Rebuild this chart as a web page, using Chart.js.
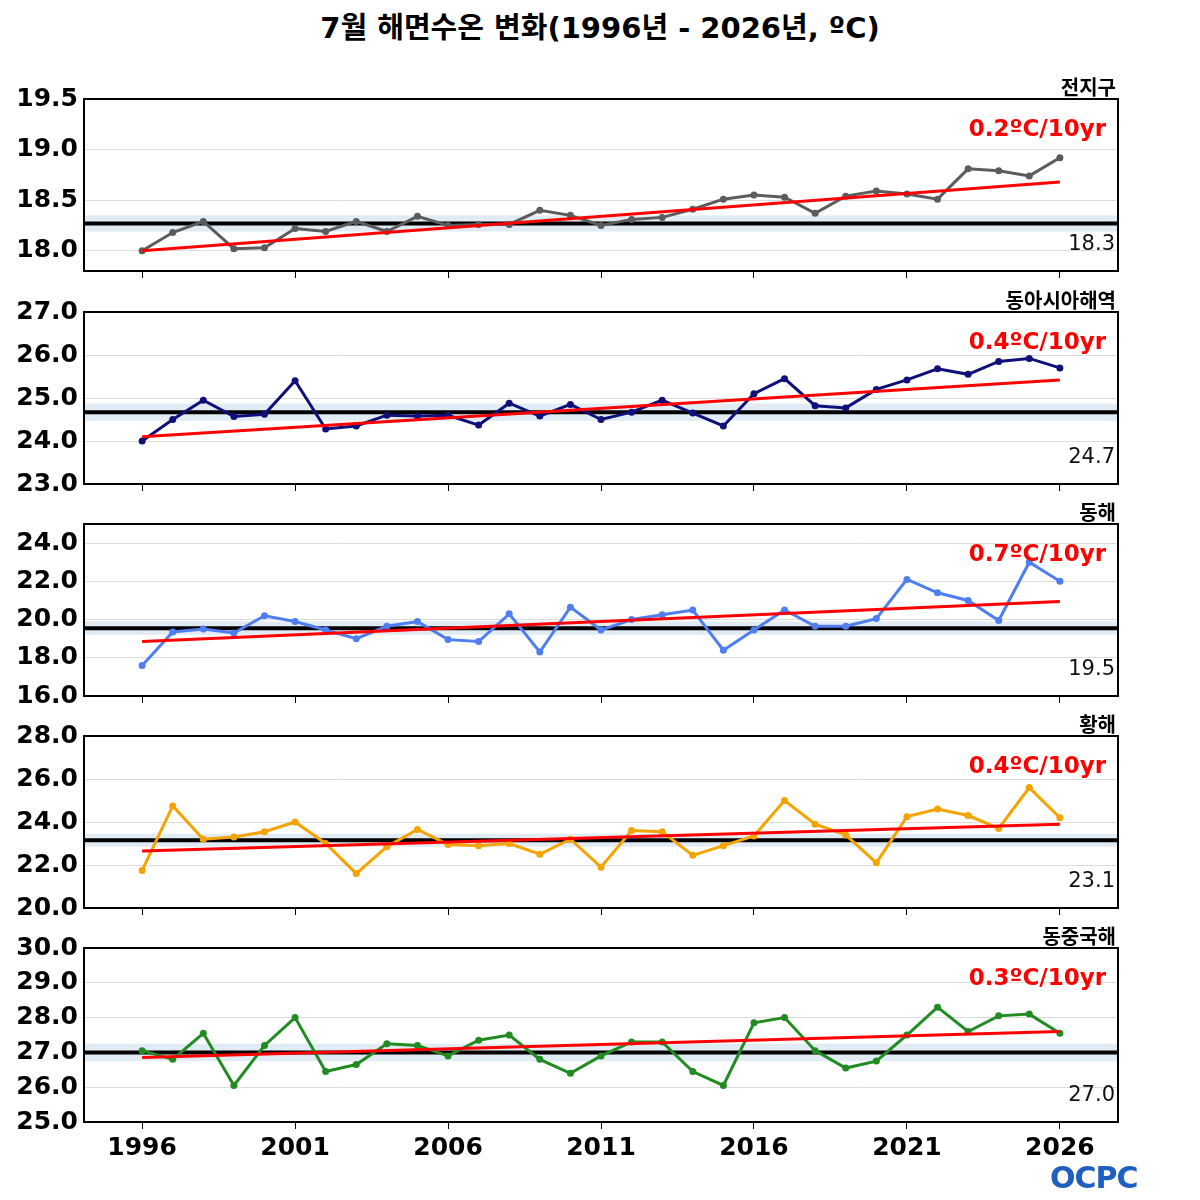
<!DOCTYPE html>
<html><head><meta charset="utf-8">
<script src="https://cdn.jsdelivr.net/npm/chart.js@4/dist/chart.umd.min.js"></script>
<style>
body{margin:0;background:#fff;font-family:"DejaVu Sans","Noto Sans CJK KR",sans-serif;}
#title{position:absolute;top:4px;left:0;width:1200px;text-align:center;font:bold 29px "DejaVu Sans","Noto Sans CJK KR";}
.p{position:absolute;left:0;width:1122px;}
#logo{position:absolute;left:1050px;top:1160px;font:bold 30px "DejaVu Sans";color:#1f5fbf;letter-spacing:-1px;}
</style></head><body>
<div id="title">7월 해면수온 변화(1996년 - 2026년, ºC)</div>
<div class="p" style="top:65px;height:227px"><canvas id="c0"></canvas></div>
<div class="p" style="top:278px;height:227px"><canvas id="c1"></canvas></div>
<div class="p" style="top:490px;height:227px"><canvas id="c2"></canvas></div>
<div class="p" style="top:702px;height:227px"><canvas id="c3"></canvas></div>
<div class="p" style="top:914px;height:256px"><canvas id="c4"></canvas></div>
<div id="logo">OCPC</div>
<script>
// ── Data ────────────────────────────────────────────────────────────────────
const years = [];
for (let y = 1996; y <= 2026; y++) years.push(y);
const xTicks = [1996, 2001, 2006, 2011, 2016, 2021, 2026];

const regionNames = ['전지구', '동아시아해역', '동해', '황해', '동중국해'];
const trendLabels = ['0.2ºC/10yr', '0.4ºC/10yr', '0.7ºC/10yr', '0.4ºC/10yr', '0.3ºC/10yr'];
const meanValues = [18.27, 24.67, 19.55, 23.15, 27.0];
const meanLabels = ['18.3', '24.7', '19.5', '23.1', '27.0'];
const trendStart = [18.0, 24.1, 18.85, 22.65, 26.85];
const trendEnd   = [18.68, 25.42, 20.95, 23.9, 27.6];

const sstGlobal = [18.0,18.18,18.29,18.02,18.03,18.22,18.19,18.29,18.19,18.34,18.25,18.26,18.26,18.4,18.35,18.25,18.31,18.33,18.41,18.51,18.55,18.53,18.37,18.54,18.59,18.56,18.51,18.81,18.79,18.74,18.92];
const sstEastAsia = [24.0,24.5,24.95,24.57,24.62,25.4,24.28,24.35,24.6,24.58,24.6,24.37,24.88,24.58,24.85,24.5,24.67,24.95,24.65,24.35,25.1,25.45,24.82,24.77,25.2,25.42,25.68,25.55,25.85,25.92,25.7];
const sstEastSea = [17.6,19.35,19.5,19.3,20.2,19.9,19.45,19.0,19.65,19.9,18.95,18.85,20.3,18.3,20.65,19.45,20.0,20.25,20.5,18.4,19.45,20.5,19.65,19.65,20.05,22.1,21.4,21.0,19.95,23.0,22.0];
const sstYellowSea = [21.75,24.75,23.2,23.3,23.55,24.0,23.0,21.6,22.85,23.65,22.95,22.9,23.0,22.5,23.2,21.9,23.6,23.55,22.45,22.9,23.35,25.0,23.9,23.4,22.1,24.25,24.6,24.3,23.7,25.6,24.2];
const sstEastChinaSea = [27.05,26.8,27.55,26.05,27.2,28.0,26.45,26.65,27.25,27.2,26.9,27.35,27.5,26.8,26.4,26.9,27.3,27.3,26.45,26.05,27.85,28.0,27.05,26.55,26.75,27.5,28.3,27.6,28.05,28.1,27.55];
const series = [sstGlobal, sstEastAsia, sstEastSea, sstYellowSea, sstEastChinaSea];

const lineColors = ['#5c5c5c', '#10107a', '#4f7ef2', '#f5a300', '#228b22'];
const yRanges = [[17.8, 19.5], [23, 27], [16, 25], [20, 28], [25, 30]];
const yTickVals = [[18, 18.5, 19, 19.5], [23, 24, 25, 26, 27], [16, 18, 20, 22, 24], [20, 22, 24, 26, 28], [25, 26, 27, 28, 29, 30]];
const bandHalf = [0.08, 0.2, 0.35, 0.3, 0.25];
const X_MIN = 1994.1, X_MAX = 2027.9;

// ── Panel plugin ────────────────────────────────────────────────────────────
const panelDeco = {
  id: 'panelDeco',
  beforeDatasetsDraw(chart, args, o) {
    const { ctx, chartArea: a, scales: { y } } = chart;
    ctx.save();
    ctx.fillStyle = 'rgba(205,222,236,0.6)';
    const t = y.getPixelForValue(o.mean + o.band), b = y.getPixelForValue(o.mean - o.band);
    ctx.fillRect(a.left, t, a.right - a.left, b - t);
    ctx.restore();
  },
  afterDraw(chart, args, o) {
    const { ctx, chartArea: a } = chart;
    ctx.save();
    ctx.strokeStyle = '#000'; ctx.lineWidth = 2;
    ctx.strokeRect(a.left, a.top, a.right - a.left, a.bottom - a.top);
    ctx.textAlign = 'right';
    ctx.fillStyle = '#000';
    ctx.font = 'bold 20px "Noto Sans CJK KR"';
    ctx.textBaseline = 'bottom';
    ctx.fillText(o.name, a.right - 2, a.top - 2);
    ctx.fillStyle = '#ff0000';
    ctx.font = 'bold 23px "DejaVu Sans"';
    ctx.textBaseline = 'top';
    ctx.fillText(o.trend, a.right - 12, a.top + 20);
    ctx.fillStyle = '#111';
    ctx.font = '21px "DejaVu Sans"';
    ctx.textBaseline = 'bottom';
    ctx.fillText(o.meanLabel, a.right - 3, a.bottom - 16);
    ctx.restore();
  }
};

series.forEach((vals, i) => {
  const last = i === series.length - 1;
  const [ymin, ymax] = yRanges[i];
  new Chart(document.getElementById('c' + i), {
    type: 'line',
    data: {
      datasets: [
        { data: [{ x: X_MIN, y: meanValues[i] }, { x: X_MAX, y: meanValues[i] }],
          borderColor: '#000', borderWidth: 4, pointRadius: 0, order: 3 },
        { data: years.map((y, k) => ({ x: y, y: vals[k] })),
          borderColor: lineColors[i], backgroundColor: lineColors[i], borderWidth: 3,
          pointRadius: 3.5, pointBorderWidth: 0, order: 2 },
        { data: [{ x: 1996, y: trendStart[i] }, { x: 2026, y: trendEnd[i] }],
          borderColor: '#ff0000', borderWidth: 3, pointRadius: 0, order: 1 },
      ]
    },
    plugins: [panelDeco],
    options: {
      animation: false, responsive: true, maintainAspectRatio: false,
      layout: { padding: { top: 34, right: 0, left: 0, bottom: 0 } },
      plugins: {
        legend: { display: false }, tooltip: { enabled: false },
        panelDeco: { name: regionNames[i], trend: trendLabels[i], mean: meanValues[i],
                     band: bandHalf[i], meanLabel: meanLabels[i] },
      },
      scales: {
        x: {
          type: 'linear', min: X_MIN, max: X_MAX,
          afterBuildTicks: s => { s.ticks = xTicks.map(v => ({ value: v })); },
          afterFit: s => { s.height = last ? 48 : 10; },
          grid: { drawOnChartArea: false, color: '#000', tickLength: 7 },
          border: { display: false },
          ticks: { display: last, color: '#000', padding: 4,
                   font: { family: 'DejaVu Sans', size: 25, weight: 'bold' }, callback: v => String(v) },
        },
        y: {
          min: ymin, max: ymax,
          afterBuildTicks: s => { s.ticks = yTickVals[i].map(v => ({ value: v })); },
          afterFit: s => { s.width = 84; },
          grid: { color: '#dcdcdc', tickLength: 0 },
          border: { display: false },
          ticks: { color: '#000', padding: 6, font: { family: 'DejaVu Sans', size: 25, weight: 'bold' },
                   callback: v => v.toFixed(1) },
        }
      }
    }
  });
});
</script>
</body></html>
